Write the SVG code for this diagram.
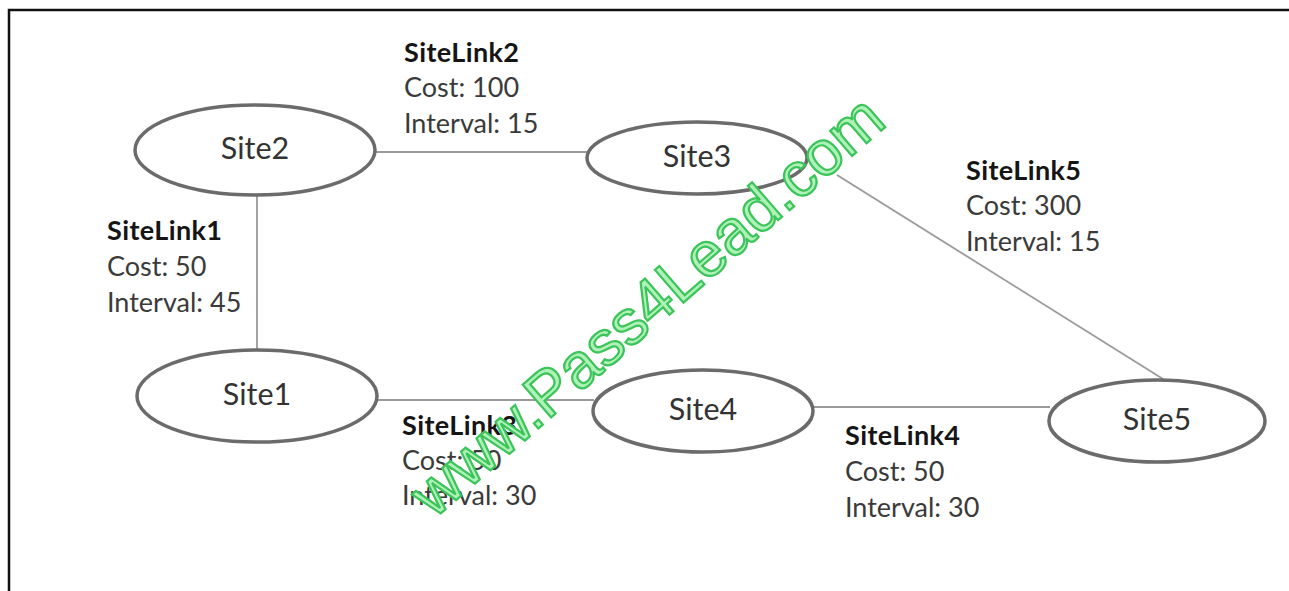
<svg xmlns="http://www.w3.org/2000/svg" width="1289" height="591" viewBox="0 0 1289 591">
<style>
.frame{stroke:#111;stroke-width:2.5;fill:none}
.node ellipse{fill:#fff;stroke:#6b6b6b;stroke-width:3.5}
.node text{font-family:Lato,"Liberation Sans",sans-serif;font-size:30.5px;fill:#333;text-anchor:middle}
.conn line{stroke:#9a9a9a;stroke-width:1.8}
.lbl text{font-family:Lato,"Liberation Sans",sans-serif;font-size:27px;fill:#3a3a3a}
.lbl .t{font-weight:bold;fill:#151515;letter-spacing:0.4px}
.wm{font-family:"Liberation Sans",Arial,sans-serif;font-size:63px;fill:#aef2b8;stroke:#3cc45a;stroke-width:2.2;text-anchor:middle}
</style>
<rect width="1289" height="591" fill="#fff"/>
<path class="frame" d="M9 591 V10 H1289"/>
<g id="connectors" class="conn">
<line x1="375" y1="152" x2="588" y2="152"/>
<line x1="257" y1="195" x2="257" y2="350"/>
<line x1="377" y1="400" x2="594" y2="400"/>
<line x1="813" y1="407" x2="1050" y2="407"/>
<line x1="837" y1="175" x2="1163" y2="379"/>
</g>
<g id="site2" class="node"><ellipse cx="255" cy="150" rx="120" ry="45"/><text x="255" y="159">Site2</text></g>
<g id="site3" class="node"><ellipse cx="697" cy="158" rx="110" ry="36"/><text x="697" y="167">Site3</text></g>
<g id="site1" class="node"><ellipse cx="257" cy="396" rx="120" ry="46"/><text x="257" y="405">Site1</text></g>
<g id="site4" class="node"><ellipse cx="703" cy="411" rx="110" ry="41"/><text x="703" y="420">Site4</text></g>
<g id="site5" class="node"><ellipse cx="1157" cy="421" rx="108" ry="41"/><text x="1157" y="430">Site5</text></g>
<g id="sitelink1" class="lbl"><text class="t" x="107" y="240">SiteLink1</text><text x="107" y="276">Cost: 50</text><text x="107" y="312">Interval: 45</text></g>
<g id="sitelink2" class="lbl"><text class="t" x="404" y="62">SiteLink2</text><text x="404" y="97">Cost: 100</text><text x="404" y="133">Interval: 15</text></g>
<g id="sitelink5" class="lbl"><text class="t" x="966" y="180">SiteLink5</text><text x="966" y="215">Cost: 300</text><text x="966" y="251">Interval: 15</text></g>
<g id="sitelink3" class="lbl"><text class="t" x="402" y="435">SiteLink3</text><text x="402" y="470">Cost: 50</text><text x="402" y="505">Interval: 30</text></g>
<g id="sitelink4" class="lbl"><text class="t" x="845" y="445">SiteLink4</text><text x="845" y="481">Cost: 50</text><text x="845" y="517">Interval: 30</text></g>
<text class="wm" x="661" y="322" transform="rotate(-41 661 322)">www.Pass4Lead.com</text>
</svg>
